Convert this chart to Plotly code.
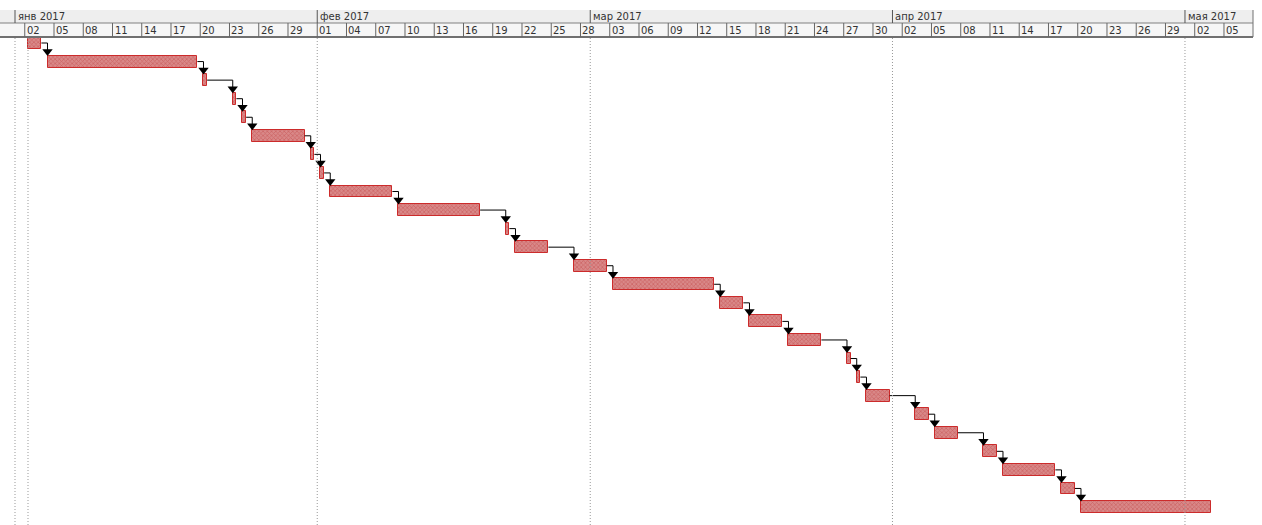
import plotly.graph_objects as go
import pandas as pd

# ---- data ----
task_start = [
    "2017-01-02", "2017-01-04", "2017-01-20", "2017-01-23", "2017-01-24",
    "2017-01-25", "2017-01-31", "2017-02-01", "2017-02-02", "2017-02-09",
    "2017-02-20", "2017-02-21", "2017-02-27", "2017-03-03", "2017-03-14",
    "2017-03-17", "2017-03-21", "2017-03-27", "2017-03-28", "2017-03-29",
    "2017-04-03", "2017-04-05", "2017-04-10", "2017-04-12", "2017-04-18",
    "2017-04-20",
]
task_finish = [
    "2017-01-03", "2017-01-19", "2017-01-20", "2017-01-23", "2017-01-24",
    "2017-01-30", "2017-01-31", "2017-02-01", "2017-02-08", "2017-02-17",
    "2017-02-20", "2017-02-24", "2017-03-02", "2017-03-13", "2017-03-16",
    "2017-03-20", "2017-03-24", "2017-03-27", "2017-03-28", "2017-03-31",
    "2017-04-04", "2017-04-07", "2017-04-11", "2017-04-17", "2017-04-19",
    "2017-05-03",
]
work_day_start_hour = 8
work_day_end_hour = 17

month_starts = ["2017-01-01", "2017-02-01", "2017-03-01", "2017-04-01", "2017-05-01"]
month_labels = ["янв 2017", "фев 2017", "мар 2017", "апр 2017", "мая 2017"]
day_tick_dates = pd.date_range("2017-01-02", "2017-05-05", freq="3D")
day_tick_labels = [d.strftime("%d") for d in day_tick_dates]
project_start = "2017-01-02 08:00"

# ---- derived ----
starts = pd.to_datetime(task_start) + pd.Timedelta(hours=work_day_start_hour)
ends = pd.to_datetime(task_finish) + pd.Timedelta(hours=work_day_end_hour)
dur_ms = [(e - s).total_seconds() * 1000 for s, e in zip(starts, ends)]
rows = list(range(len(task_start)))
fmt = "%Y-%m-%d %H:%M"

W, H = 1262, 525
TOP, BOT = 38, 0
plot_h = H - TOP - BOT


def py(ypx):
    return (H - BOT - ypx) / plot_h


bar_h = 0.64

fig = go.Figure()

fig.add_trace(go.Bar(
    y=rows, x=dur_ms, base=[s.strftime(fmt) for s in starts],
    orientation="h", width=bar_h,
    marker=dict(color="#d98888", line=dict(color="#cc2b2b", width=1),
                pattern=dict(shape="x", fgcolor="#bf3c3c", size=3, solidity=0.4)),
    hoverinfo="skip",
))

# links
lx, ly, ax_, ay_ = [], [], [], []
for i in range(len(rows) - 1):
    e = ends[i].strftime(fmt)
    s = starts[i + 1].strftime(fmt)
    top_next = rows[i + 1] - bar_h / 2
    lx += [e, s, s, None]
    ly += [rows[i], rows[i], top_next - 0.05, None]
    ax_.append(s)
    ay_.append(top_next - 0.22)

fig.add_trace(go.Scatter(x=lx, y=ly, mode="lines",
                         line=dict(color="#000000", width=1), hoverinfo="skip"))
fig.add_trace(go.Scatter(x=ax_, y=ay_, mode="markers",
                         marker=dict(symbol="triangle-down", size=9, color="#000000"),
                         hoverinfo="skip"))

shapes = []
# dotted vertical gridlines
for d in month_starts + [project_start]:
    shapes.append(dict(type="line", xref="x", yref="paper", x0=d, x1=d, y0=0, y1=1,
                       line=dict(color="#999999", width=1, dash="1px,2px")))

# header
hdr_right = 1253 / W
shapes.append(dict(type="rect", xref="paper", yref="paper", x0=0, x1=hdr_right,
                   y0=py(23), y1=py(10), fillcolor="#eeeeee", line=dict(width=0), layer="below"))
shapes.append(dict(type="rect", xref="paper", yref="paper", x0=0, x1=hdr_right,
                   y0=py(37), y1=py(23), fillcolor="#f6f6f6", line=dict(width=0), layer="below"))
shapes.append(dict(type="line", xref="paper", yref="paper", x0=0, x1=hdr_right,
                   y0=py(23), y1=py(23), line=dict(color="#808080", width=1)))
shapes.append(dict(type="line", xref="paper", yref="paper", x0=0, x1=hdr_right,
                   y0=py(37), y1=py(37), line=dict(color="#707070", width=2)))
shapes.append(dict(type="line", xref="paper", yref="paper", x0=hdr_right, x1=hdr_right,
                   y0=py(37), y1=py(10), line=dict(color="#707070", width=1)))
for d in month_starts:
    shapes.append(dict(type="line", xref="x", yref="paper", x0=d, x1=d,
                       y0=py(23), y1=py(10), line=dict(color="#555555", width=1)))
for d in day_tick_dates:
    ds = d.strftime(fmt)
    shapes.append(dict(type="line", xref="x", yref="paper", x0=ds, x1=ds,
                       y0=py(37), y1=py(23), line=dict(color="#666666", width=1)))

annotations = []
for d, t in zip(month_starts, month_labels):
    annotations.append(dict(x=d, y=py(16.5), xref="x", yref="paper", text=t,
                            showarrow=False, xanchor="left", yanchor="middle", xshift=1,
                            font=dict(family="DejaVu Sans", size=10, color="#333333")))
for d, t in zip(day_tick_dates, day_tick_labels):
    annotations.append(dict(x=d.strftime(fmt), y=py(30.5), xref="x", yref="paper", text=t,
                            showarrow=False, xanchor="left", yanchor="middle", xshift=0,
                            font=dict(family="DejaVu Sans", size=10, color="#333333")))

fig.update_layout(
    width=W, height=H,
    margin=dict(l=0, r=0, t=TOP, b=BOT),
    paper_bgcolor="#ffffff", plot_bgcolor="#ffffff",
    showlegend=False,
    bargap=0,
    hovermode=False,
    xaxis=dict(type="date", range=["2016-12-30 11:05", "2017-05-08 21:36"],
               showgrid=False, zeroline=False, showticklabels=False, ticks=""),
    yaxis=dict(range=[25.97, -0.27], showgrid=False, zeroline=False,
               showticklabels=False, ticks=""),
    shapes=shapes,
    annotations=annotations,
)

fig.write_html("out.html", config={"displayModeBar": False},
               post_script="document.body.style.margin='0';document.body.style.overflow='hidden';")
